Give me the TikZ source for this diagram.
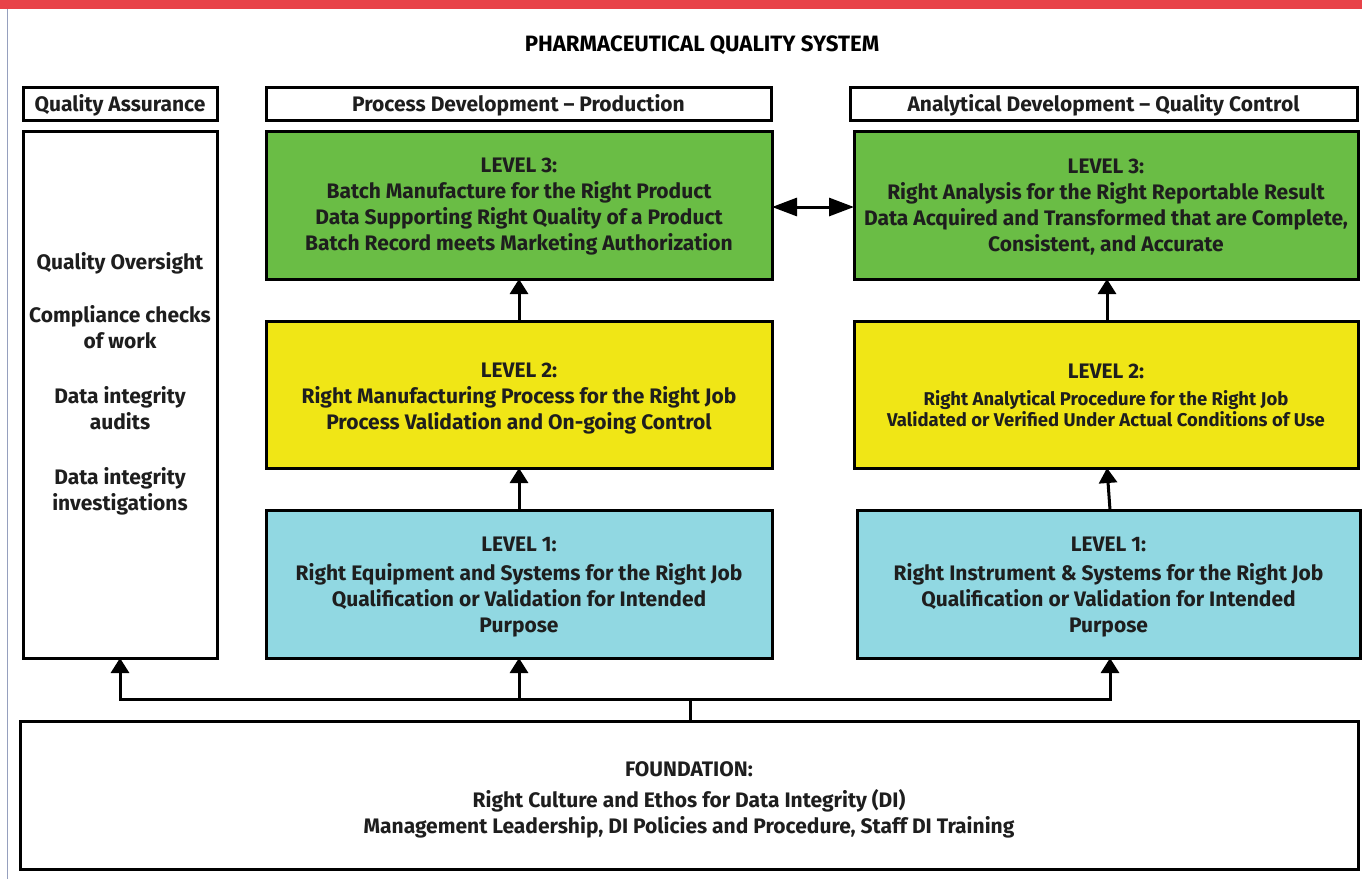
\documentclass[tikz,border=0pt]{standalone}
\usepackage{fontspec}
\setmainfont{Fira Sans}
\usetikzlibrary{arrows.meta}
\definecolor{topred}{RGB}{232,66,72}
\definecolor{edgegray}{RGB}{150,160,190}
\definecolor{lvlgreen}{RGB}{106,189,69}
\definecolor{lvlyellow}{RGB}{240,230,22}
\definecolor{lvlcyan}{RGB}{145,216,226}
\definecolor{ink}{RGB}{30,30,30}
\tikzset{
  box/.style={draw=black, line width=3pt, rectangle, inner sep=0pt, outer sep=0pt},
  txt/.style={text=ink, font=\bfseries\fontsize{21}{26}\selectfont, align=center, inner sep=0pt},
  conn/.style={draw=black, line width=3pt},
  tip/.style={-{Triangle[length=15pt,width=18pt]}},
}
\begin{document}
\begin{tikzpicture}[x=1pt,y=-1pt]
\useasboundingbox (0,0) rectangle (1362,879);
\fill[white] (0,0) rectangle (1362,879);
% page frame
\fill[topred] (0,0) rectangle (1362,9);
\draw[edgegray, line width=1pt] (7,9) -- (7,879);

% title
\node[txt, text=black, font=\bfseries\fontsize{22.2}{26}\selectfont] (title) at (702,45) {PHARMACEUTICAL QUALITY SYSTEM};

% column headers
\node[box, minimum width=194pt, minimum height=33pt] (qahead) at (120,103.5) {};
\node[txt] at ([yshift=-1.5pt]qahead) {Quality Assurance};
\node[box, minimum width=505pt, minimum height=33pt] (pdhead) at (518.5,103.5) {};
\node[txt] at ([yshift=-1.5pt]pdhead) {Process Development -- Production};
\node[box, minimum width=507pt, minimum height=33pt] (adhead) at (1103.5,103.5) {};
\node[txt] at ([yshift=-1.5pt]adhead) {Analytical Development -- Quality Control};

% quality assurance column
\node[box, minimum width=194pt, minimum height=527pt] (qa) at (120,394.5) {};
\node[txt] (qatext) at (120,384) {Quality Oversight\\[27pt]Compliance checks\\of work\\[29pt]Data integrity\\audits\\[29pt]Data integrity\\investigations};

% production levels
\node[box, fill=lvlgreen, minimum width=506pt, minimum height=148pt] (p3) at (519,205) {};
\node[txt] at ([yshift=-2pt]p3) {LEVEL 3:\\Batch Manufacture for the Right Product\\Data Supporting Right Quality of a Product\\Batch Record meets Marketing Authorization};
\node[box, fill=lvlyellow, minimum width=506pt, minimum height=147pt] (p2) at (519,394.5) {};
\node[txt] at ([yshift=-4.5pt]p2) {LEVEL 2:\\Right Manufacturing Process for the Right Job\\Process Validation and On-going Control};
\node[box, fill=lvlcyan, minimum width=506pt, minimum height=148pt] (p1) at (519,584) {};
\node[txt] at ([yshift=-3.5pt]p1) {LEVEL 1:\\[3pt]Right Equipment and Systems for the Right Job\\Qualification or Validation for Intended\\Purpose};

% analytical levels
\node[box, fill=lvlgreen, minimum width=504pt, minimum height=148pt] (a3) at (1106,205) {};
\node[txt] at ([yshift=-2pt]a3) {LEVEL 3:\\Right Analysis for the Right Reportable Result\\Data Acquired and Transformed that are Complete,\\Consistent, and Accurate};
\node[box, fill=lvlyellow, minimum width=504pt, minimum height=147pt] (a2) at (1106,394.5) {};
\node[txt, font=\bfseries\fontsize{18.5}{21}\selectfont] at ([yshift=-1pt]a2) {{\fontsize{21}{26}\selectfont LEVEL 2:}\\[6pt]Right Analytical Procedure for the Right Job\\Validated or Verified Under Actual Conditions of Use};
\node[box, fill=lvlcyan, minimum width=503pt, minimum height=148pt] (a1) at (1108.5,584) {};
\node[txt] at ([yshift=-3.5pt]a1) {LEVEL 1:\\[3pt]Right Instrument \& Systems for the Right Job\\Qualification or Validation for Intended\\Purpose};

% foundation
\node[box, minimum width=1338pt, minimum height=148pt] (found) at (689,795) {};
\node[txt] at ([yshift=-5pt]found) {FOUNDATION:\\[5pt]Right Culture and Ethos for Data Integrity (DI)\\Management Leadership, DI Policies and Procedure, Staff DI Training};

% connectors
\coordinate (hub) at (690,699);
\draw[conn] (found.north -| hub) -- (hub);
\draw[conn, tip] (hub) -| (qa.south);
\draw[conn, tip] (hub) -| (p1.south);
\draw[conn, tip] (hub) -| (a1.south -| 1110,0);
\draw[conn, tip] (p1.north) -- (p2.south);
\draw[conn, tip] (p2.north) -- (p3.south);
\draw[conn, tip] (a1.north -| 1110,0) -- (a2.south -| 1107,0);
\draw[conn, tip] (a2.north -| 1107,0) -- (a3.south -| 1107,0);
\draw[conn, {Triangle[length=25pt,width=18pt]}-{Triangle[length=25pt,width=18pt]}] (p3.east |- 0,207) -- (a3.west |- 0,207);
\end{tikzpicture}
\end{document}
